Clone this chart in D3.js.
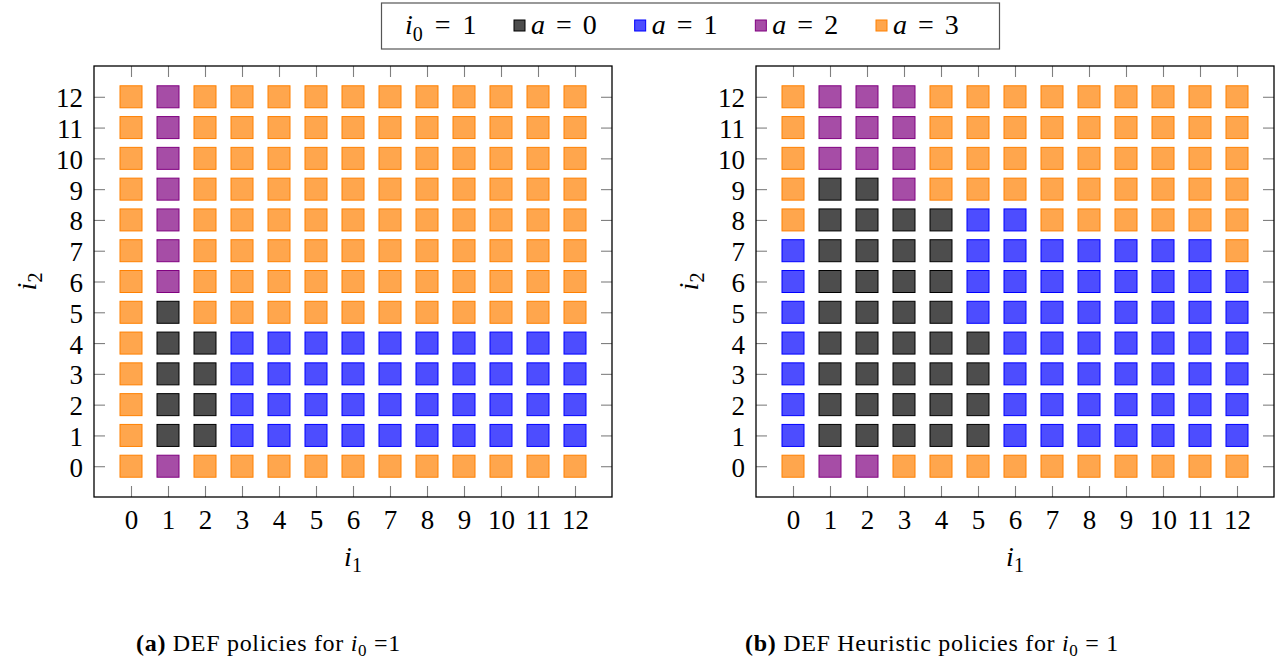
<!DOCTYPE html>
<html>
<head>
<meta charset="utf-8">
<script src="https://cdn.jsdelivr.net/npm/d3@7"></script>
<style>
  html, body { margin: 0; padding: 0; background: #fff; }
  svg { display: block; }
  text { font-family: "Liberation Serif", "DejaVu Serif", serif; fill: #000; }
</style>
</head>
<body>
<svg id="chart" width="1288" height="669"></svg>
<script>
// Axis tick values
const i1Ticks = [0, 1, 2, 3, 4, 5, 6, 7, 8, 9, 10, 11, 12];
const i2Ticks = [0, 1, 2, 3, 4, 5, 6, 7, 8, 9, 10, 11, 12];

// Action codes
const actions = [0, 1, 2, 3];
const actionNames = ["0", "1", "2", "3"];
const actionFill = ["#4d4d4d", "#4d4dff", "#a64da6", "#ffa64d"];
const actionStroke = ["#000000", "#0000ff", "#800080", "#ff8000"];

// Chosen action per state; each row is one i2 value (0..12), columns are i1 = 0..12
const defPolicy = [
  [3, 2, 3, 3, 3, 3, 3, 3, 3, 3, 3, 3, 3],
  [3, 0, 0, 1, 1, 1, 1, 1, 1, 1, 1, 1, 1],
  [3, 0, 0, 1, 1, 1, 1, 1, 1, 1, 1, 1, 1],
  [3, 0, 0, 1, 1, 1, 1, 1, 1, 1, 1, 1, 1],
  [3, 0, 0, 1, 1, 1, 1, 1, 1, 1, 1, 1, 1],
  [3, 0, 3, 3, 3, 3, 3, 3, 3, 3, 3, 3, 3],
  [3, 2, 3, 3, 3, 3, 3, 3, 3, 3, 3, 3, 3],
  [3, 2, 3, 3, 3, 3, 3, 3, 3, 3, 3, 3, 3],
  [3, 2, 3, 3, 3, 3, 3, 3, 3, 3, 3, 3, 3],
  [3, 2, 3, 3, 3, 3, 3, 3, 3, 3, 3, 3, 3],
  [3, 2, 3, 3, 3, 3, 3, 3, 3, 3, 3, 3, 3],
  [3, 2, 3, 3, 3, 3, 3, 3, 3, 3, 3, 3, 3],
  [3, 2, 3, 3, 3, 3, 3, 3, 3, 3, 3, 3, 3]
];

const heuristicPolicy = [
  [3, 2, 2, 3, 3, 3, 3, 3, 3, 3, 3, 3, 3],
  [1, 0, 0, 0, 0, 0, 1, 1, 1, 1, 1, 1, 1],
  [1, 0, 0, 0, 0, 0, 1, 1, 1, 1, 1, 1, 1],
  [1, 0, 0, 0, 0, 0, 1, 1, 1, 1, 1, 1, 1],
  [1, 0, 0, 0, 0, 0, 1, 1, 1, 1, 1, 1, 1],
  [1, 0, 0, 0, 0, 1, 1, 1, 1, 1, 1, 1, 1],
  [1, 0, 0, 0, 0, 1, 1, 1, 1, 1, 1, 1, 1],
  [1, 0, 0, 0, 0, 1, 1, 1, 1, 1, 1, 1, 3],
  [3, 0, 0, 0, 0, 1, 1, 3, 3, 3, 3, 3, 3],
  [3, 0, 0, 2, 3, 3, 3, 3, 3, 3, 3, 3, 3],
  [3, 2, 2, 2, 3, 3, 3, 3, 3, 3, 3, 3, 3],
  [3, 2, 2, 2, 3, 3, 3, 3, 3, 3, 3, 3, 3],
  [3, 2, 2, 2, 3, 3, 3, 3, 3, 3, 3, 3, 3]
];

const serif = '"Liberation Serif", "DejaVu Serif", serif';
const svg = d3.select("#chart");

const panelW = 518, panelH = 431, panelTop = 66;
const cell = 22;
const tickLen = 11;
const tickFont = 27;

function drawPanel(left, policy) {
  const x = d3.scaleLinear().domain([-1, 13]).range([left, left + panelW]);
  const y = d3.scaleLinear().domain([-1, 13]).range([panelTop + panelH, panelTop]);
  const g = svg.append("g");

  // cells
  const cells = [];
  policy.forEach((row, i2) => row.forEach((a, i1) => cells.push({ i1, i2, a })));
  g.append("g").selectAll("rect").data(cells).join("rect")
    .attr("x", d => x(d.i1) - cell / 2)
    .attr("y", d => y(d.i2) - cell / 2)
    .attr("width", cell)
    .attr("height", cell)
    .attr("fill", d => actionFill[d.a])
    .attr("stroke", d => actionStroke[d.a])
    .attr("stroke-width", 1);

  const styleAxis = sel => {
    sel.attr("font-family", serif).attr("font-size", tickFont);
    sel.select(".domain").remove();
    sel.selectAll(".tick line").attr("stroke", "#808080").attr("stroke-width", 1.1);
    sel.selectAll(".tick text").attr("fill", "#000");
  };

  // bottom axis with labels
  const bottom = g.append("g").attr("transform", `translate(0,${panelTop + panelH})`)
    .call(d3.axisBottom(x).tickValues(i1Ticks).tickSize(-tickLen).tickFormat(d3.format("d")));
  styleAxis(bottom);
  bottom.selectAll(".tick text").attr("y", 32).attr("dy", 0);

  // left axis with labels
  const leftAx = g.append("g").attr("transform", `translate(${left},0)`)
    .call(d3.axisLeft(y).tickValues(i2Ticks).tickSize(-tickLen).tickFormat(d3.format("d")));
  styleAxis(leftAx);
  leftAx.selectAll(".tick text").attr("x", -11).attr("dy", "0.37em");

  // top and right axes: ticks only
  const top = g.append("g").attr("transform", `translate(0,${panelTop})`)
    .call(d3.axisTop(x).tickValues(i1Ticks).tickSize(-tickLen).tickFormat(""));
  styleAxis(top);
  const right = g.append("g").attr("transform", `translate(${left + panelW},0)`)
    .call(d3.axisRight(y).tickValues(i2Ticks).tickSize(-tickLen).tickFormat(""));
  styleAxis(right);

  // frame
  g.append("rect")
    .attr("x", left).attr("y", panelTop)
    .attr("width", panelW).attr("height", panelH)
    .attr("fill", "none").attr("stroke", "#000").attr("stroke-width", 1.3);

  // axis titles
  const xt = g.append("text")
    .attr("x", left + panelW / 2).attr("y", 566)
    .attr("text-anchor", "middle")
    .style("font-size", "28px");
  xt.append("tspan").style("font-style", "italic").text("i");
  xt.append("tspan").attr("dy", 6).style("font-size", "20px").text("1");

  const yt = g.append("text")
    .attr("transform", `translate(${left - 58},${panelTop + panelH / 2}) rotate(-90)`)
    .attr("text-anchor", "middle")
    .style("font-size", "28px");
  yt.append("tspan").style("font-style", "italic").text("i");
  yt.append("tspan").attr("dy", 6).style("font-size", "20px").text("2");
}

drawPanel(94, defPolicy);
drawPanel(756, heuristicPolicy);

// legend
const legend = svg.append("g");
legend.append("rect")
  .attr("x", 381.5).attr("y", 3).attr("width", 618).attr("height", 46)
  .attr("fill", "#fff").attr("stroke", "#555").attr("stroke-width", 1.2);

const head = legend.append("text").attr("x", 405).attr("y", 34).style("font-size", "28px");
head.append("tspan").style("font-style", "italic").text("i");
head.append("tspan").attr("dy", 7).style("font-size", "20px").text("0");
head.append("tspan").attr("dy", -7).attr("dx", 12).text("=");
head.append("tspan").attr("dx", 12).text("1");

const legendX = d3.scalePoint().domain(actions).range([514, 876]);
const items = legend.selectAll("g.item").data(actions).join("g").attr("class", "item")
  .attr("transform", d => `translate(${legendX(d)},0)`);
items.append("rect")
  .attr("x", 0).attr("y", 20).attr("width", 11).attr("height", 11)
  .attr("fill", d => actionFill[d]).attr("stroke", d => actionStroke[d]).attr("stroke-width", 1);
items.each(function (d) {
  const t = d3.select(this).append("text").attr("x", 17).attr("y", 34).style("font-size", "28px");
  t.append("tspan").style("font-style", "italic").text("a");
  t.append("tspan").attr("dx", 11).text("=");
  t.append("tspan").attr("dx", 11).text(actionNames[d]);
});

// captions
const capFont = "24px", capSub = "17px";
const capA = svg.append("text").attr("x", 136).attr("y", 651)
  .style("font-size", capFont).style("letter-spacing", "0.7px");
capA.append("tspan").style("font-weight", "bold").text("(a)");
capA.append("tspan").text(" DEF policies for ");
capA.append("tspan").style("font-style", "italic").text("i");
capA.append("tspan").attr("dy", 5).style("font-size", capSub).text("0");
capA.append("tspan").attr("dy", -5).text(" =1");

const capB = svg.append("text").attr("x", 745).attr("y", 651)
  .style("font-size", capFont).style("letter-spacing", "0.7px");
capB.append("tspan").style("font-weight", "bold").text("(b)");
capB.append("tspan").text(" DEF Heuristic policies for ");
capB.append("tspan").style("font-style", "italic").text("i");
capB.append("tspan").attr("dy", 5).style("font-size", capSub).text("0");
capB.append("tspan").attr("dy", -5).text(" = 1");
</script>
</body>
</html>
